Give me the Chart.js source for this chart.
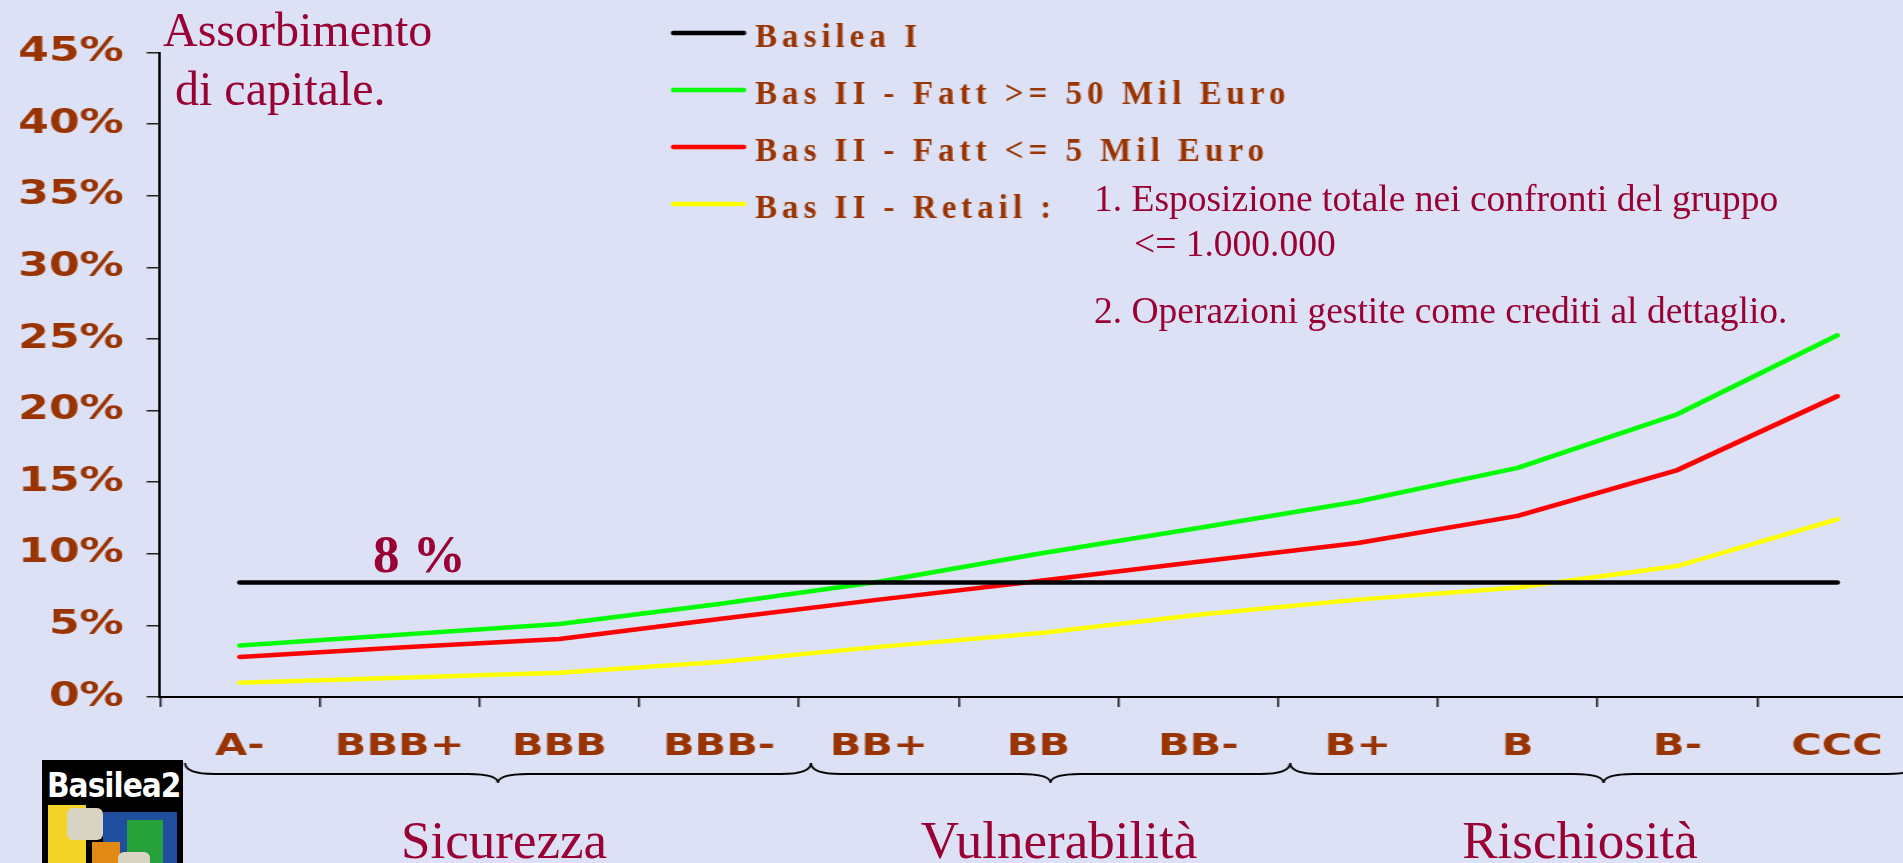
<!DOCTYPE html>
<html>
<head>
<meta charset="utf-8">
<script src="https://cdn.jsdelivr.net/npm/chart.js@4.4.1/dist/chart.umd.min.js"></script>
<style>
html, body { margin: 0; padding: 0; width: 1903px; height: 863px; overflow: hidden; background: #dde1f5; }
#wrap { position: absolute; left: 0; top: 0; width: 1436px; height: 863px; transform-origin: 0 0; }
.t { position: absolute; font-family: "Liberation Serif", "Times New Roman", serif; color: #990033; white-space: pre; line-height: 1; }
.c { transform: translateX(-50%); }
#logo { position: absolute; left: 42px; top: 760px; width: 141px; height: 110px; background: #000; overflow: hidden; }
#logo div { position: absolute; }
</style>
</head>
<body>

<div id="wrap"><canvas id="chart"></canvas></div>

<div class="t" style="left:163px; top:6px; font-size:48px;">Assorbimento</div>
<div class="t" style="left:163px; top:65px; font-size:48px;"> di capitale.</div>
<div class="t" style="left:373px; top:528px; font-size:53px; font-weight:bold;">8 %</div>
<div class="t" style="left:1094px; top:180px; font-size:37.5px;">1. Esposizione totale nei confronti del gruppo</div>
<div class="t" style="left:1134px; top:225px; font-size:37.5px;">&lt;= 1.000.000</div>
<div class="t" style="left:1094px; top:292px; font-size:37.5px;">2. Operazioni gestite come crediti al dettaglio.</div>
<div class="t c" style="left:504px; top:814px; font-size:53px;">Sicurezza</div>
<div class="t c" style="left:1059px; top:814px; font-size:53px;">Vulnerabilità</div>
<div class="t c" style="left:1580px; top:814px; font-size:53px;">Rischiosità</div>

<div id="logo">
  <div style="left:5px; top:6px; color:#fff; font:bold 33px 'DejaVu Sans Condensed', sans-serif; letter-spacing:-1px;">Basilea2</div>
  <div style="left:6px; top:45px; width:38px; height:70px; background:#f5d42a;"></div>
  <div style="left:61px; top:52px; width:74px; height:60px; background:#1f4f9e;"></div>
  <div style="left:85px; top:60px; width:36px; height:50px; background:#27a23a;"></div>
  <div style="left:50px; top:82px; width:28px; height:30px; background:#e08a14;"></div>
  <div style="left:25px; top:48px; width:36px; height:32px; background:#d9d3c3; border-radius:6px;"></div>
  <div style="left:76px; top:92px; width:32px; height:20px; background:#d9d3c3; border-radius:6px;"></div>
</div>

<script>
// the chart object sits horizontally stretched on the slide
const S = 1.34;

const ratings = ['A-', 'BBB+', 'BBB', 'BBB-', 'BB+', 'BB', 'BB-', 'B+', 'B', 'B-', 'CCC'];

const basilea1 = [8, 8, 8, 8, 8, 8, 8, 8, 8, 8, 8];
const fatt50   = [3.6, 4.35, 5.1, 6.5, 8.05, 10.0, 11.8, 13.65, 16.0, 19.75, 25.25];
const fatt5    = [2.8, 3.45, 4.05, 5.45, 6.8, 8.1, 9.45, 10.75, 12.65, 15.85, 21.0];
const retail   = [1.0, 1.35, 1.7, 2.45, 3.5, 4.45, 5.75, 6.8, 7.65, 9.15, 12.4];

const seriesNames = ['Basilea I', 'Bas II - Fatt >= 50 Mil Euro', 'Bas II - Fatt <= 5 Mil Euro', 'Bas II - Retail :'];
const seriesColors = ['#000000', '#00ff00', '#ff0000', '#ffff00'];

const yMax = 45;
const yStep = 5;

// rating groups under the braces (first / last category index)
const groups = [[0, 3], [4, 6], [7, 10]];

const brown = '#993300';

// legend drawn as a vertical list, text unstretched
const legendList = {
    id: 'legendList',
    afterDraw(chart) {
        const ctx = chart.ctx;
        ctx.save();
        ctx.scale(1 / S, 1);
        ctx.font = 'bold 33px "Liberation Serif"';
        ctx.letterSpacing = '5px';
        ctx.fillStyle = brown;
        ctx.lineWidth = 4.5;
        ctx.lineCap = 'round';
        chart.data.datasets.forEach((ds, i) => {
            const y = 33 + i * 57;
            ctx.strokeStyle = ds.borderColor;
            ctx.beginPath();
            ctx.moveTo(673, y);
            ctx.lineTo(744, y);
            ctx.stroke();
            ctx.fillText(ds.label, 755, y + 13.5);
        });
        ctx.restore();
    }
};

// curly braces under the rating groups
const braces = {
    id: 'braces',
    afterDraw(chart) {
        const x = chart.scales.x;
        const half = (x.getPixelForValue(1) - x.getPixelForValue(0)) / 2;
        const ctx = chart.ctx;
        ctx.save();
        ctx.scale(1 / S, 1);
        ctx.strokeStyle = '#000';
        ctx.lineWidth = 2;
        const yTop = 763, yMid = 774, yTip = 783, r = 30;
        groups.forEach(([a, b], i) => {
            const x1 = (x.getPixelForValue(a) - half) * S + (i === 0 ? 25 : 12);
            const x2 = (x.getPixelForValue(b) + half) * S + (i === groups.length - 1 ? 0 : 12);
            const xm = (x1 + x2) / 2;
            ctx.beginPath();
            ctx.moveTo(x1, yTop);
            ctx.quadraticCurveTo(x1, yMid, x1 + r, yMid);
            ctx.lineTo(xm - r, yMid);
            ctx.quadraticCurveTo(xm, yMid, xm, yTip);
            ctx.quadraticCurveTo(xm, yMid, xm + r, yMid);
            ctx.lineTo(x2 - r, yMid);
            ctx.quadraticCurveTo(x2, yMid, x2, yTop);
            ctx.stroke();
        });
        ctx.restore();
    }
};

document.getElementById('wrap').style.transform = 'scaleX(' + S + ')';

const tickFont = { family: 'DejaVu Sans', weight: 'bold' };

new Chart(document.getElementById('chart').getContext('2d'), {
    type: 'line',
    data: {
        labels: ratings,
        datasets: [basilea1, fatt50, fatt5, retail].map((d, i) => ({
            label: seriesNames[i],
            data: d,
            borderColor: seriesColors[i],
            backgroundColor: seriesColors[i]
        }))
    },
    options: {
        responsive: true,
        maintainAspectRatio: false,
        animation: false,
        layout: { padding: { top: 52.6, right: 1436 - 1917 / S, left: 0, bottom: 0 } },
        elements: {
            line: { borderWidth: 4.5, borderCapStyle: 'round', borderJoinStyle: 'round', tension: 0, fill: false },
            point: { radius: 0, hoverRadius: 0 }
        },
        plugins: {
            legend: { display: false },
            tooltip: { enabled: false }
        },
        scales: {
            x: {
                offset: true,
                grid: { offset: true, drawOnChartArea: false, tickLength: 10, color: '#222', lineWidth: 1.5 },
                border: { color: '#000', width: 2 },
                ticks: {
                    color: brown,
                    font: { ...tickFont, size: 31 },
                    padding: 21,
                    maxRotation: 0,
                    autoSkip: false
                },
                afterFit: s => { s.height = 863 - 697; }
            },
            y: {
                min: 0,
                max: yMax,
                grid: { drawOnChartArea: false, tickLength: 10, color: '#222', lineWidth: 1.5 },
                border: { color: '#000', width: 2 },
                ticks: {
                    stepSize: yStep,
                    color: brown,
                    font: { ...tickFont, size: 33 },
                    padding: 17,
                    callback: v => v + '%'
                },
                afterFit: s => { s.width = 160 / S; }
            }
        }
    },
    plugins: [legendList, braces]
});
</script>
</body>
</html>
